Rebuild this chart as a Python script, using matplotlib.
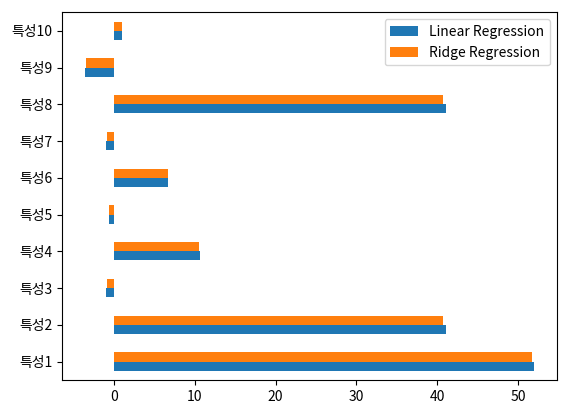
import matplotlib
matplotlib.use('Agg')
import matplotlib.pyplot as plt
import numpy as np

plt.rcParams['font.family'] = ['Noto Sans CJK KR', 'DejaVu Sans']
plt.rcParams['axes.unicode_minus'] = False

features = ['특성1', '특성2', '특성3', '특성4', '특성5', '특성6', '특성7', '특성8', '특성9', '특성10']
linear = [52.0, 41.1, -1.0, 10.6, -0.6, 6.7, -1.0, 41.1, -3.6, 1.0]
ridge = [51.7, 40.7, -0.9, 10.5, -0.6, 6.7, -0.9, 40.7, -3.5, 1.0]

fig, ax = plt.subplots(figsize=(5.68, 4.13), dpi=100)
y = np.arange(len(features))
h = 0.25
ax.barh(y - h / 2, linear, height=h, color='#1f77b4', label='Linear Regression')
ax.barh(y + h / 2, ridge, height=h, color='#ff7f0e', label='Ridge Regression')
ax.set_yticks(y)
ax.set_yticklabels(features)
ax.set_ylim(-0.5, len(features) - 0.5)
ax.legend(loc='upper right')
fig.subplots_adjust(left=0.11, right=0.98, top=0.97, bottom=0.08)
fig.savefig('out.png', dpi=100)
